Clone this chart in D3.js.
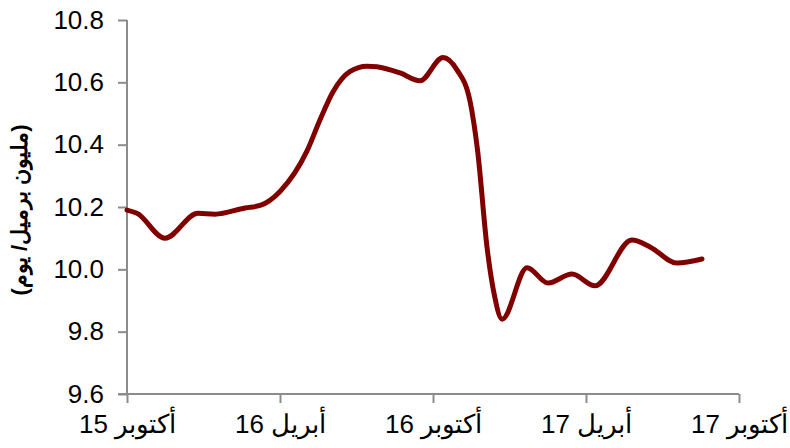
<!DOCTYPE html>
<html>
<head>
<meta charset="utf-8">
<script src="https://cdn.jsdelivr.net/npm/d3@7"></script>
<style>
  body { margin: 0; background: #fff; }
  text { font-family: "Liberation Sans", Arial, sans-serif; }
</style>
</head>
<body>
<svg id="canvas" width="790" height="448"></svg>
<script>
// months since Oct 2015
let months = [0, 0.39, 1.49, 2.78, 3.45, 4.63, 5.22, 6.0, 7.06, 7.57, 8.08, 8.75, 9.41, 9.8, 10.71, 11.49, 12.39, 12.94, 13.45, 13.75, 14.12, 14.4, 14.71, 15.69, 16.51, 17.45, 18.35, 19.8, 20.51, 21.57, 22.55];
let production = [10.19, 10.18, 10.10, 10.18, 10.177, 10.197, 10.205, 10.25, 10.38, 10.48, 10.57, 10.635, 10.652, 10.65, 10.63, 10.605, 10.68, 10.64, 10.54, 10.38, 10.07, 9.92, 9.84, 10.005, 9.956, 9.985, 9.947, 10.094, 10.072, 10.02, 10.033];

let tickMonths = [0, 6, 12, 18, 24];
let tickLabels = ["أكتوبر 15", "أبريل 16", "أكتوبر 16", "أبريل 17", "أكتوبر 17"];
let yTicks = [9.6, 9.8, 10.0, 10.2, 10.4, 10.6, 10.8];
let yTitle = "(مليون برميل/ يوم)";

let canvas = d3.select("#canvas");

let xScale = d3.scaleLinear().domain([0, 24]).range([127, 739]);
let yScale = d3.scaleLinear().domain([9.6, 10.8]).range([394, 20]);

let axisColor = "#8c8c8c";

// y axis
let yAxis = canvas.append("g")
                  .attr("transform", "translate(127,0)")
                  .call(d3.axisLeft(yScale).tickValues(yTicks).tickSize(9).tickPadding(14).tickFormat(d3.format(".1f")));
yAxis.select(".domain").attr("stroke", axisColor).attr("stroke-width", 2).attr("d", "M0,20V394");
yAxis.selectAll(".tick line").attr("stroke", axisColor).attr("stroke-width", 2);
yAxis.selectAll(".tick text").attr("font-size", 26).attr("fill", "#000").attr("font-family", "Liberation Sans, Arial, sans-serif");

// x axis
let xAxis = canvas.append("g")
                  .attr("transform", "translate(0,394)")
                  .call(d3.axisBottom(xScale).tickValues(tickMonths).tickSize(9).tickPadding(12).tickFormat((d, i) => tickLabels[i]));
xAxis.select(".domain").attr("stroke", axisColor).attr("stroke-width", 2).attr("d", "M118,0H739");
xAxis.selectAll(".tick line").attr("stroke", axisColor).attr("stroke-width", 2);
xAxis.selectAll(".tick text").attr("font-size", 26).attr("fill", "#000").attr("font-family", "Liberation Sans, DejaVu Sans, Arial, sans-serif");

// line
let points = months.map((m, i) => [m, production[i]]);
let line = d3.line()
             .x(d => xScale(d[0]))
             .y(d => yScale(d[1]))
             .curve(d3.curveMonotoneX);
canvas.append("path")
      .datum(points)
      .attr("d", line)
      .attr("fill", "none")
      .attr("stroke", "#800000")
      .attr("stroke-width", 5)
      .attr("stroke-linecap", "round")
      .attr("stroke-linejoin", "round");

// y title
canvas.append("text")
      .attr("transform", "translate(27,210) rotate(-90)")
      .attr("text-anchor", "middle")
      .attr("font-size", 22)
      .attr("font-weight", "bold")
      .attr("font-family", "DejaVu Sans, sans-serif")
      .text(yTitle);
</script>
</body>
</html>
